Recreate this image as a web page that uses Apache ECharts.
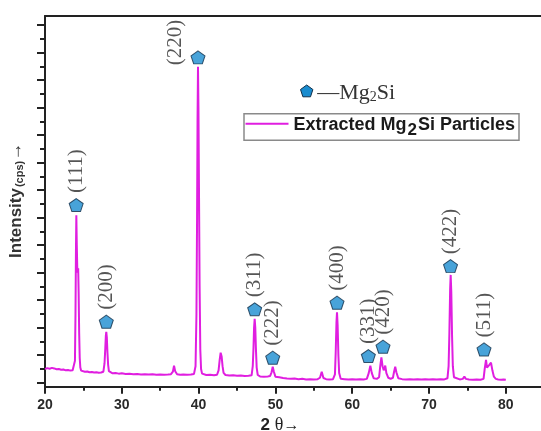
<!DOCTYPE html>
<html>
<head>
<meta charset="utf-8">
<script src="https://cdn.jsdelivr.net/npm/echarts@6/dist/echarts.min.js"></script>
<style>
  html, body { margin: 0; padding: 0; background: #ffffff; }
  #chart { width: 541px; height: 431px; }
</style>
</head>
<body>
<div id="chart"></div>
<script>
// XRD pattern of extracted Mg2Si particles: [2θ (deg), intensity (cps)]
const pattern = [
  [20.0, 50], [20.3, 53], [20.6, 51], [20.9, 54], [21.2, 52], [21.5, 49], [21.8, 50],
  [22.1, 47], [22.4, 48], [22.7, 45], [23.0, 46], [23.3, 44], [23.6, 45], [23.8, 47],
  [23.9, 80], [23.97, 250], [24.03, 480], [24.08, 609], [24.14, 500], [24.2, 420],
  [24.26, 400], [24.32, 416], [24.38, 330], [24.45, 180], [24.52, 90], [24.6, 55],
  [24.7, 44], [24.9, 42], [25.2, 40], [25.5, 41], [25.8, 38], [26.1, 39], [26.4, 37],
  [26.7, 38], [27.0, 36], [27.3, 37], [27.6, 40], [27.75, 70], [27.85, 125], [27.92, 170],
  [27.98, 185], [28.05, 165], [28.13, 110], [28.22, 65], [28.32, 42], [28.5, 36],
  [28.8, 34], [29.2, 35], [29.6, 33], [30.0, 34], [30.5, 32], [31.0, 33], [31.5, 31],
  [32.0, 32], [32.5, 30], [33.0, 31], [33.5, 30], [34.0, 31], [34.5, 29], [35.0, 30],
  [35.5, 29], [36.0, 30], [36.4, 31], [36.65, 40], [36.8, 62], [36.95, 42], [37.2, 31],
  [37.6, 29], [38.0, 30], [38.5, 29], [39.0, 30], [39.4, 32], [39.6, 60], [39.72, 250],
  [39.8, 600], [39.86, 950], [39.92, 1149], [39.98, 1000], [40.05, 700], [40.13, 350],
  [40.22, 120], [40.32, 50], [40.45, 33], [40.7, 29], [41.0, 28], [41.5, 29], [42.0, 27],
  [42.4, 29], [42.6, 45], [42.75, 85], [42.87, 109], [43.0, 95], [43.12, 60], [43.25, 36],
  [43.5, 28], [44.0, 26], [44.5, 27], [45.0, 25], [45.5, 26], [46.0, 24], [46.5, 25],
  [46.9, 27], [47.05, 60], [47.15, 130], [47.22, 200], [47.3, 232], [47.38, 200],
  [47.46, 125], [47.56, 55], [47.7, 28], [48.0, 23], [48.5, 22], [49.0, 23], [49.3, 24],
  [49.5, 38], [49.65, 58], [49.8, 40], [50.0, 22], [50.5, 20], [51.0, 17], [51.5, 15],
  [52.0, 14], [52.5, 15], [53.0, 13], [53.5, 14], [54.0, 12], [54.5, 13], [55.0, 12],
  [55.5, 13], [55.8, 18], [56.03, 40], [56.25, 17], [56.6, 13], [57.0, 12], [57.5, 13],
  [57.75, 30], [57.85, 110], [57.95, 220], [58.02, 256], [58.1, 210], [58.2, 100],
  [58.3, 35], [58.5, 14], [59.0, 13], [59.5, 12], [60.0, 13], [60.5, 12], [61.0, 13],
  [61.5, 12], [61.9, 14], [62.15, 35], [62.36, 62], [62.55, 35], [62.8, 16], [63.2, 14],
  [63.5, 20], [63.65, 60], [63.8, 92], [63.95, 60], [64.1, 45], [64.3, 62], [64.45, 35],
  [64.7, 18], [65.0, 14], [65.3, 18], [65.45, 40], [65.6, 58], [65.75, 38], [66.0, 16],
  [66.5, 13], [67.0, 12], [67.5, 13], [68.0, 12], [68.5, 13], [69.0, 12], [69.5, 13],
  [70.0, 12], [70.5, 13], [71.0, 12], [71.5, 13], [72.0, 12], [72.4, 16], [72.55, 60],
  [72.65, 180], [72.75, 340], [72.82, 392], [72.9, 330], [73.0, 170], [73.1, 60],
  [73.25, 20], [73.5, 13], [74.0, 12], [74.4, 14], [74.6, 22], [74.8, 14], [75.2, 12],
  [75.7, 11], [76.2, 12], [76.7, 11], [77.1, 14], [77.25, 50], [77.42, 83], [77.55, 55],
  [77.7, 52], [77.85, 65], [78.07, 73], [78.25, 45], [78.45, 22], [78.7, 14], [79.0, 12],
  [79.4, 11], [79.7, 12], [80.0, 11]
];

// Mg2Si reflections: Miller indices and marker placement (2θ, cps)
const hklLabels   = ['(111)', '(200)', '(220)', '(311)', '(222)', '(400)', '(331)', '(420)', '(422)', '(511)'];
const markerTheta = [24.06, 27.98, 39.92, 47.30, 49.65, 58.02, 62.10, 64.01, 72.80, 77.16];
const markerCps   = [646, 222, 1183, 267, 91, 291, 97, 131, 424, 121];

// Axis tick values
const xTickLabels = [20, 30, 40, 50, 60, 70, 80];
const xMinorTicks = [25, 35, 45, 55, 65, 75];
const yMajorTicks = [0, 100, 200, 300, 400, 500, 600, 700, 800, 900, 1000, 1100, 1200, 1300];
const yMinorTicks = [50, 150, 250, 350, 450, 550, 650, 750, 850, 950, 1050, 1150, 1250];

const X_MIN = 20, X_MAX = 84.58;
const Y_MIN = -14.5, Y_MAX = 1333.5;
const AXIS_COLOR = '#222222';
const CURVE_COLOR = '#e01ee0';
const MARKER_FILL = '#1a8ccf';
const PENTAGON = 'path://M0,-1L0.951,-0.309L0.588,0.809L-0.588,0.809L-0.951,-0.309Z';

const markerData = hklLabels.map((hkl, i) => {
  const item = { name: hkl, value: [markerTheta[i], markerCps[i]] };
  if (hkl === '(220)') {
    // the strongest reflection sits close to the frame, so its tag goes up-left
    item.label = { position: [-15, -8], align: 'center', verticalAlign: 'middle' };
  }
  return item;
});

const chart = echarts.init(document.getElementById('chart'), null, { renderer: 'canvas' });

chart.setOption({
  animation: false,
  backgroundColor: '#ffffff',
  grid: { left: 45, right: 0, top: 16, bottom: 44.3, containLabel: false, outerBoundsMode: 'none' },
  xAxis: [
    {
      type: 'value', min: X_MIN, max: X_MAX, position: 'bottom',
      name: '{a|2 }{b|θ}{c|→}',
      nameLocation: 'middle', nameGap: 27,
      nameTextStyle: {
        padding: [0, 26, 0, 0],
        rich: {
          a: { fontFamily: 'Liberation Sans', fontWeight: 'bold', fontSize: 17, color: '#222' },
          b: { fontFamily: 'Liberation Serif', fontSize: 18, color: '#222' },
          c: { fontFamily: 'Liberation Serif', fontSize: 16, color: '#222' }
        }
      },
      axisLine: { show: true, onZero: false, lineStyle: { color: AXIS_COLOR, width: 2 } },
      axisTick: { show: true, inside: false, length: 7, customValues: xTickLabels, lineStyle: { color: AXIS_COLOR, width: 2 } },
      axisLabel: {
        show: true, customValues: xTickLabels, margin: 11,
        fontFamily: 'Liberation Sans', fontWeight: 'bold', fontSize: 14, color: '#2a2a2a'
      },
      splitLine: { show: false }
    },
    {
      type: 'value', min: X_MIN, max: X_MAX, position: 'bottom',
      axisLine: { show: false, onZero: false },
      axisTick: { show: true, inside: false, length: 4, customValues: xMinorTicks, lineStyle: { color: AXIS_COLOR, width: 2 } },
      axisLabel: { show: false },
      splitLine: { show: false }
    },
    {
      type: 'value', min: X_MIN, max: X_MAX, position: 'top',
      axisLine: { show: true, onZero: false, lineStyle: { color: AXIS_COLOR, width: 2 } },
      axisTick: { show: false },
      axisLabel: { show: false },
      splitLine: { show: false }
    }
  ],
  yAxis: [
    {
      type: 'value', min: Y_MIN, max: Y_MAX, position: 'left',
      name: '{a|Intensity}{b|(cps)}{c|→}',
      nameLocation: 'middle', nameRotate: 90, nameGap: 20,
      nameTextStyle: {
        padding: [0, 0, 0, 2],
        rich: {
          a: { fontFamily: 'Liberation Sans', fontWeight: 'bold', fontSize: 17, color: '#333', verticalAlign: 'bottom', lineHeight: 19 },
          b: { fontFamily: 'Liberation Sans', fontWeight: 'bold', fontSize: 11, color: '#333', verticalAlign: 'bottom', lineHeight: 19, padding: [0, 0, 0, 1] },
          c: { fontFamily: 'Liberation Serif', fontSize: 18, color: '#333', verticalAlign: 'bottom', lineHeight: 19 }
        }
      },
      axisLine: { show: true, onZero: false, lineStyle: { color: AXIS_COLOR, width: 2 } },
      axisTick: { show: true, inside: false, length: 8, customValues: yMajorTicks, lineStyle: { color: AXIS_COLOR, width: 2 } },
      axisLabel: { show: false },
      splitLine: { show: false }
    },
    {
      type: 'value', min: Y_MIN, max: Y_MAX, position: 'left',
      axisLine: { show: false, onZero: false },
      axisTick: { show: true, inside: false, length: 5, customValues: yMinorTicks, lineStyle: { color: AXIS_COLOR, width: 2 } },
      axisLabel: { show: false },
      splitLine: { show: false }
    }
  ],
  series: [
    {
      name: 'Extracted Mg2Si Particles',
      type: 'line',
      xAxisIndex: 0, yAxisIndex: 0,
      data: pattern,
      symbol: 'none',
      smooth: false,
      lineStyle: { color: CURVE_COLOR, width: 2 },
      z: 2
    },
    {
      name: 'Mg2Si',
      type: 'scatter',
      xAxisIndex: 0, yAxisIndex: 0,
      data: markerData,
      symbol: PENTAGON,
      symbolSize: [14, 13],
      itemStyle: { color: MARKER_FILL, borderColor: '#12304a', borderWidth: 1 },
      label: {
        show: true,
        formatter: '{b}',
        position: 'top',
        distance: 5,
        rotate: 90,
        align: 'left',
        verticalAlign: 'middle',
        fontFamily: 'Liberation Serif',
        fontSize: 21,
        color: '#2b2b2b'
      },
      z: 3
    }
  ],
  graphic: [
    // phase key: pentagon — Mg2Si
    {
      type: 'group', left: 300, top: 82,
      children: [
        {
          type: 'polygon',
          shape: { points: [[6.5, 0], [12.7, 4.5], [10.3, 11.8], [2.7, 11.8], [0.3, 4.5]] },
          style: { fill: MARKER_FILL, stroke: '#12304a', lineWidth: 1 }
        },
        {
          type: 'text', x: 17, y: 7,
          style: {
            text: '{s|—Mg}{t|2}{s|Si}',
            verticalAlign: 'middle',
            rich: {
              s: { fontFamily: 'Liberation Serif', fontSize: 22, fill: '#333', verticalAlign: 'bottom', lineHeight: 24 },
              t: { fontFamily: 'Liberation Serif', fontSize: 14, fill: '#333', verticalAlign: 'bottom', lineHeight: 24 }
            }
          }
        }
      ]
    },
    // series legend box
    {
      type: 'group', left: 243, top: 113,
      children: [
        {
          type: 'rect',
          shape: { x: 0.5, y: 0.5, width: 275, height: 26.5 },
          style: { fill: '#ffffff', stroke: '#8a8a8a', lineWidth: 1.5 }
        },
        {
          type: 'line',
          shape: { x1: 2, y1: 10.5, x2: 45, y2: 10.5 },
          style: { stroke: CURVE_COLOR, lineWidth: 2 }
        },
        {
          type: 'text', x: 50, y: 14,
          style: {
            text: '{n|Extracted Mg}{s|2}{n|Si Particles}',
            verticalAlign: 'middle',
            rich: {
              n: { fontFamily: 'Liberation Sans', fontWeight: 'bold', fontSize: 18, fill: '#1a1a1a', verticalAlign: 'top', lineHeight: 25, padding: [1, 0, 0, 0] },
              s: { fontFamily: 'Liberation Sans', fontWeight: 'bold', fontSize: 17, fill: '#1a1a1a', verticalAlign: 'top', lineHeight: 25, padding: [7, 1, 0, 1] }
            }
          }
        }
      ]
    }
  ]
});
</script>
</body>
</html>
